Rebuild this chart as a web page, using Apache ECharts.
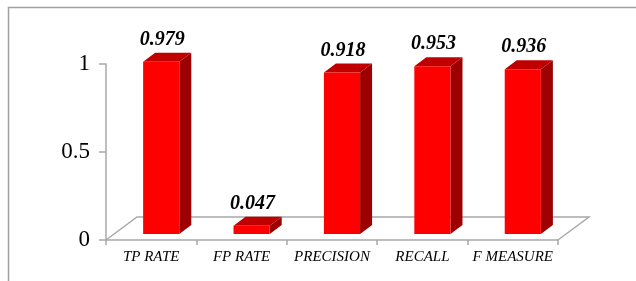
<!DOCTYPE html>
<html>
<head>
<meta charset="utf-8">
<script src="https://cdn.jsdelivr.net/npm/echarts@6/dist/echarts.min.js"></script>
<style>
	html, body { margin: 0; padding: 0; background: #fff; }
	#main { width: 636px; height: 281px; }
</style>
</head>
<body>
<div id="main"></div>
<script>
// 类别与数值
var categories = [ 'TP RATE', 'FP RATE', 'PRECISION', 'RECALL', 'F MEASURE' ];
var values = [ 0.979, 0.047, 0.918, 0.953, 0.936 ];
var yTicks = [ 0, 0.5, 1 ];

var FRONT = '#ff0000', TOP = '#c00000', SIDE = '#9c0000';
var serif = '"Liberation Serif", "DejaVu Serif", serif';

var myChart = echarts.init(document.getElementById('main'));

function renderFloor(params, api) {
	var cs = params.coordSys;
	var x0 = cs.x, x1 = cs.x + cs.width, y0 = cs.y + cs.height;
	var dx = 31, dy = -23;
	return {
		type : 'polyline',
		z2 : 1,
		shape : {
			points : [ [ x0, y0 ], [ x0 + dx, y0 + dy ], [ x1 + dx, y0 + dy ],
					[ x1, y0 ] ]
		},
		style : {
			fill : null,
			stroke : '#a8a8a8',
			lineWidth : 1.5
		}
	};
}

function renderBar(params, api) {
	var i = api.value(0);
	var top = api.coord([ i, api.value(1) ]);
	var base = api.coord([ i, 0 ]);
	var band = api.size([ 1, 0 ])[0];
	var w = band * 0.4;
	var ox = 10, oy = -6; // 柱子前面相对前沿的偏移
	var dx = 12, dy = -9; // 柱子深度
	var l = top[0] + ox - w / 2, r = l + w;
	var t = top[1] + oy, b = base[1] + oy;
	return {
		type : 'group',
		children : [ {
			type : 'polygon',
			shape : {
				points : [ [ r, t ], [ r + dx, t + dy ], [ r + dx, b + dy ], [ r, b ] ]
			},
			style : {
				fill : SIDE
			}
		}, {
			type : 'polygon',
			shape : {
				points : [ [ l, t ], [ l + dx, t + dy ], [ r + dx, t + dy ], [ r, t ] ]
			},
			style : {
				fill : TOP
			}
		}, {
			type : 'rect',
			shape : {
				x : l,
				y : t,
				width : w,
				height : b - t
			},
			style : {
				fill : FRONT
			}
		}, {
			type : 'text',
			style : {
				text : api.value(1).toFixed(3),
				x : (l + r) / 2 + 1,
				y : t - 12,
				align : 'center',
				verticalAlign : 'bottom',
				fontFamily : serif,
				fontStyle : 'italic',
				fontWeight : 'bold',
				fontSize : 20,
				fill : '#000'
			}
		} ]
	};
}

var barData = [];
for (var i = 0; i < values.length; i++) {
	barData.push([ i, values[i] ]);
}

var option = {
	animation : false,
	grid : {
		left : 106,
		right : 78,
		top : 64,
		bottom : 41
	},
	xAxis : {
		type : 'category',
		data : categories,
		axisLine : {
			lineStyle : {
				color : '#a8a8a8',
				width : 1.5
			}
		},
		axisTick : {
			show : true,
			length : 5,
			interval : 0,
			lineStyle : {
				color : '#a8a8a8',
				width : 1.5
			}
		},
		axisLabel : {
			interval : 0,
			margin : 10,
			fontFamily : serif,
			fontStyle : 'italic',
			fontSize : 15,
			color : '#000'
		}
	},
	yAxis : {
		type : 'value',
		min : yTicks[0],
		max : yTicks[yTicks.length - 1],
		interval : yTicks[1] - yTicks[0],
		axisLine : {
			show : true,
			lineStyle : {
				color : '#a8a8a8',
				width : 1.5
			}
		},
		axisTick : {
			show : true,
			length : 7,
			lineStyle : {
				color : '#a8a8a8',
				width : 1.5
			}
		},
		splitLine : {
			show : false
		},
		axisLabel : {
			margin : 16,
			fontFamily : serif,
			fontSize : 23,
			color : '#000'
		}
	},
	graphic : [ {
		type : 'polyline',
		shape : {
			points : [ [ 8.5, 281 ], [ 8.5, 7.5 ], [ 636, 7.5 ] ]
		},
		style : {
			fill : null,
			stroke : '#a0a0a0',
			lineWidth : 1.5
		}
	} ],
	series : [ {
		type : 'custom',
		renderItem : renderFloor,
		data : [ [ 0, 0 ] ],
		z : 1
	}, {
		type : 'custom',
		renderItem : renderBar,
		data : barData,
		z : 2
	} ]
};
myChart.setOption(option);
</script>
</body>
</html>
